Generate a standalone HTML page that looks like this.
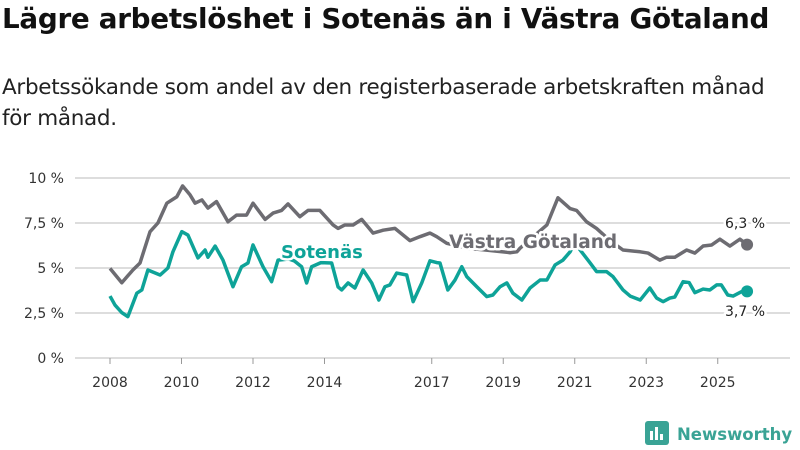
<!DOCTYPE html>
<html><head><meta charset="utf-8"><style>
body{margin:0;background:#fff;font-family:"DejaVu Sans","Liberation Sans",sans-serif;}
#wrap{position:relative;width:800px;height:450px;overflow:hidden;}
h1{position:absolute;left:2px;top:2px;margin:0;font-size:27.8px;font-weight:bold;color:#111;letter-spacing:-0.3px;white-space:nowrap;}
.sub{position:absolute;left:2px;top:72px;width:798px;margin:0;font-size:21.5px;line-height:31px;color:#222;letter-spacing:-0.3px;white-space:nowrap;}
svg{position:absolute;left:0;top:0;}
svg text{font-family:"DejaVu Sans","Liberation Sans",sans-serif;}
</style></head><body>
<div id="wrap">
<h1>Lägre arbetslöshet i Sotenäs än i Västra Götaland</h1>
<p class="sub">Arbetssökande som andel av den registerbaserade arbetskraften månad<br>för månad.</p>
<svg id="chart" width="800" height="450"></svg>
</div>
<script>
const yTicks=[0,2.5,5,7.5,10];
const yTickLabels=["0 %","2,5 %","5 %","7,5 %","10 %"];
const xTicks=[2008,2010,2012,2014,2017,2019,2021,2023,2025];
const vgDates=[2008.00,2008.33,2008.64,2008.84,2009.12,2009.34,2009.59,2009.87,2010.03,2010.24,2010.38,2010.57,2010.74,2010.98,2011.30,2011.54,2011.82,2012.00,2012.34,2012.56,2012.80,2012.98,2013.31,2013.54,2013.87,2014.24,2014.38,2014.57,2014.80,2015.04,2015.36,2015.64,2015.97,2016.39,2016.67,2016.95,2017.14,2017.42,2018.0,2018.5,2019.2,2019.38,2019.47,2020.22,2020.53,2020.87,2021.05,2021.33,2021.61,2022.0,2022.35,2022.83,2023.05,2023.38,2023.57,2023.80,2024.13,2024.36,2024.59,2024.83,2025.06,2025.34,2025.62,2025.82];
const vgValues=[4.98,4.18,4.89,5.28,7.02,7.5,8.6,8.96,9.56,9.06,8.6,8.78,8.33,8.69,7.57,7.94,7.94,8.6,7.7,8.05,8.2,8.56,7.85,8.2,8.2,7.39,7.2,7.39,7.39,7.7,6.94,7.1,7.2,6.52,6.74,6.94,6.74,6.37,6.1,6.0,5.85,5.9,6.1,7.39,8.9,8.3,8.2,7.57,7.2,6.5,6.0,5.9,5.83,5.44,5.6,5.6,6.0,5.83,6.22,6.28,6.6,6.22,6.6,6.3];
const soDates=[2008.00,2008.14,2008.33,2008.50,2008.75,2008.89,2009.06,2009.40,2009.62,2009.76,2010.01,2010.18,2010.46,2010.66,2010.74,2010.94,2011.16,2011.44,2011.68,2011.86,2012.00,2012.28,2012.52,2012.70,2013.0,2013.15,2013.36,2013.50,2013.64,2013.9,2014.20,2014.38,2014.48,2014.66,2014.85,2015.08,2015.32,2015.52,2015.69,2015.83,2016.02,2016.30,2016.48,2016.72,2016.95,2017.14,2017.23,2017.45,2017.65,2017.84,2017.98,2018.26,2018.54,2018.71,2018.91,2019.10,2019.27,2019.52,2019.75,2020.03,2020.22,2020.45,2020.67,2020.87,2021.0,2021.19,2021.43,2021.61,2021.89,2022.07,2022.35,2022.55,2022.83,2023.10,2023.29,2023.47,2023.66,2023.80,2024.03,2024.20,2024.36,2024.59,2024.78,2024.97,2025.10,2025.28,2025.43,2025.67,2025.82];
const soValues=[3.44,2.94,2.52,2.3,3.6,3.78,4.89,4.61,5.0,5.9,7.02,6.83,5.56,6.0,5.6,6.22,5.44,3.96,5.07,5.28,6.28,5.07,4.24,5.44,5.5,5.4,5.07,4.17,5.07,5.3,5.28,3.95,3.78,4.17,3.89,4.89,4.17,3.22,3.96,4.06,4.72,4.61,3.13,4.17,5.4,5.3,5.28,3.78,4.33,5.07,4.52,3.96,3.41,3.5,3.96,4.17,3.6,3.22,3.89,4.33,4.33,5.17,5.44,5.9,6.4,5.9,5.28,4.8,4.8,4.52,3.78,3.44,3.22,3.89,3.33,3.13,3.33,3.39,4.24,4.19,3.63,3.83,3.78,4.06,4.06,3.5,3.44,3.69,3.7];

const NS="http://www.w3.org/2000/svg";
const svg=document.getElementById('chart');
const x=y=>110+(y-2008)*35.75;
const yS=v=>358-v*18;
function mk(t,a,p){const e=document.createElementNS(NS,t);for(const k in a)e.setAttribute(k,a[k]);(p||svg).appendChild(e);return e;}
yTicks.forEach((v,i)=>{
  const g=mk('line',{x1:75,x2:790,y1:yS(v),y2:yS(v),stroke:'#dddddd','stroke-width':2});
  
  
  const t=mk('text',{x:64,y:yS(v)+5,'text-anchor':'end','font-size':14,fill:'#333'});
  t.textContent=yTickLabels[i];
  
  
});
xTicks.forEach(v=>{
  const tk=mk('line',{x1:x(v),x2:x(v),y1:358,y2:364,stroke:'#999','stroke-width':1});
  
  
  const t=mk('text',{x:x(v),y:387,'text-anchor':'middle','font-size':14,fill:'#333'});
  t.textContent=v;
  
  
});
function line(d,v,c,name){
  const p=mk('polyline',{points:d.map((t,i)=>x(t)+','+yS(v[i])).join(' '),fill:'none',stroke:c,'stroke-width':3.5,'stroke-linejoin':'round'});
  
  
  const n=d.length-1;
  const c2=mk('circle',{cx:x(d[n]),cy:yS(v[n]),r:6,fill:c});
  
  
}
line(vgDates,vgValues,'#6d6c72','vastra-gotaland-line');
line(soDates,soValues,'#0ea398','sotenas-line');
function lab(txt,xx,yy,c,sz,w,name,anchor){
  const t=mk('text',{x:xx,y:yy,fill:c,'font-size':sz,'font-weight':w,stroke:'#fff','stroke-width':5,'paint-order':'stroke','stroke-linejoin':'round','text-anchor':anchor||'start'});
  t.textContent=txt;
  
  
}
lab('Sotenäs',281,258,'#0ea398',18,'bold','sotenas-label');
lab('Västra Götaland',449,248,'#6d6c72',18.5,'bold','vastra-gotaland-label');
lab('6,3 %',745,228,'#222',14,'normal','vg-end-value','middle');
lab('3,7 %',745,316,'#222',14,'normal','sotenas-end-value','middle');
</script>
<svg width="800" height="450" style="pointer-events:none">
<rect x="645" y="421" width="24" height="24" rx="3" fill="#3aa395"/>
<rect x="650" y="431" width="3" height="9" fill="#fff"/><rect x="655" y="427" width="3" height="13" fill="#fff"/><rect x="660" y="434" width="3" height="6" fill="#fff"/>
<text x="677" y="440" font-size="16.5" font-weight="bold" fill="#3aa395" font-family="DejaVu Sans, sans-serif">Newsworthy</text>
</svg>
</body></html>
